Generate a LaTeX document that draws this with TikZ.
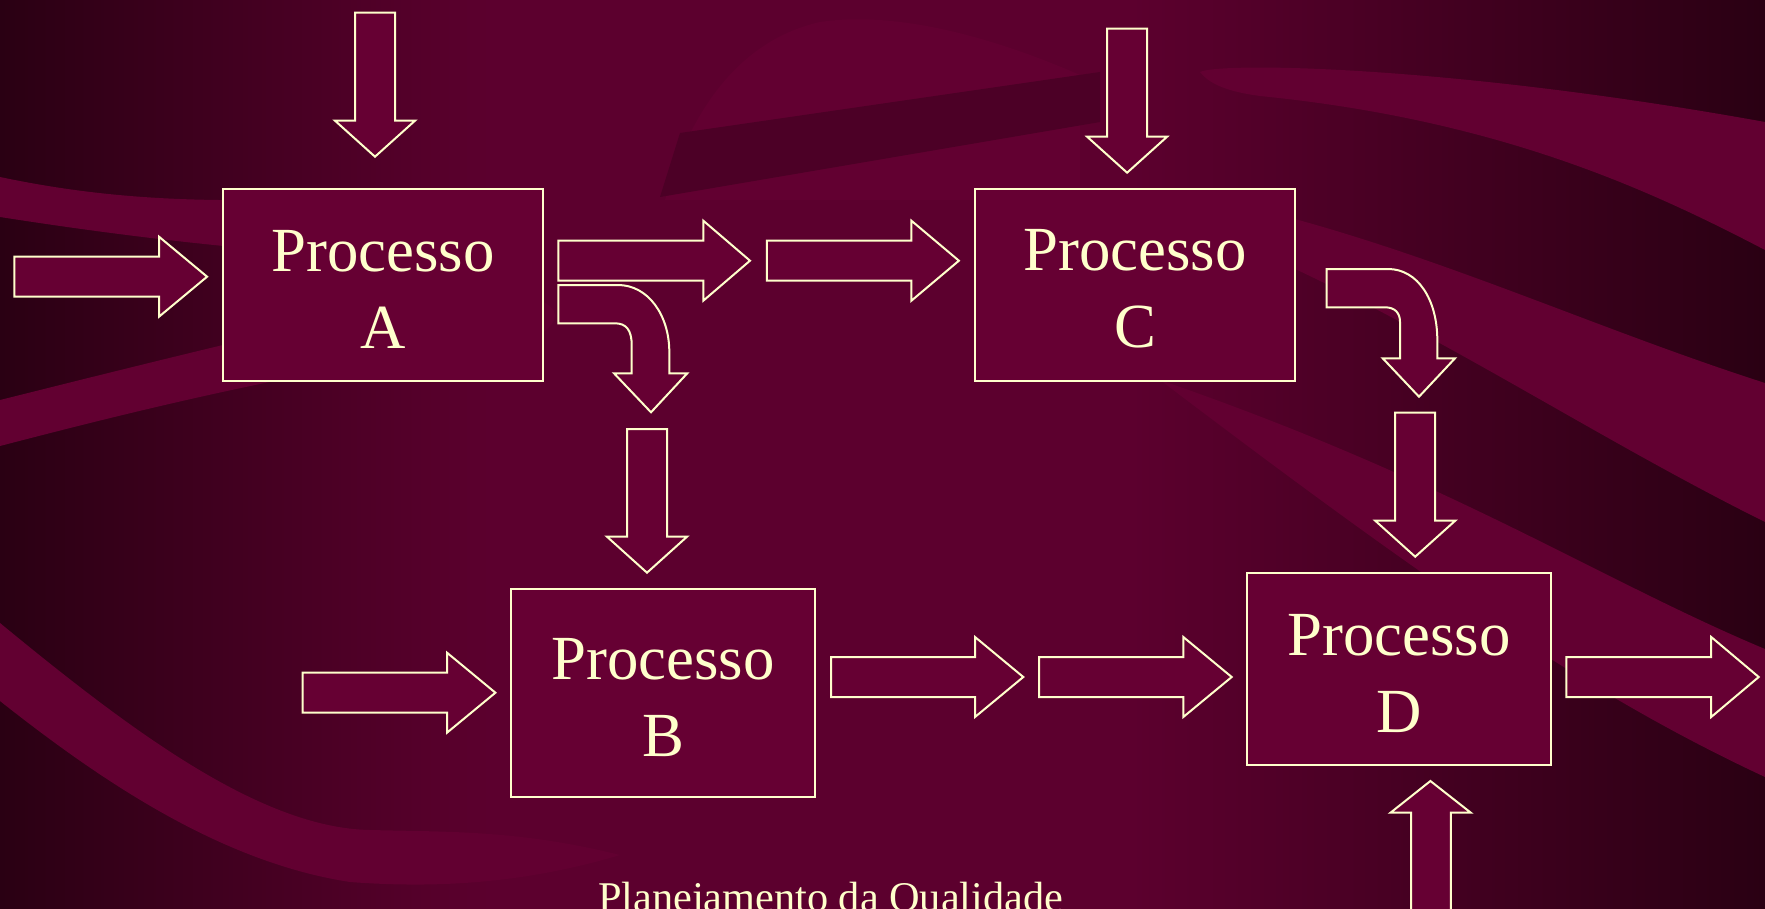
\documentclass[tikz,border=0pt]{standalone}
\usepackage{fontspec}
\setmainfont{Liberation Serif}
\definecolor{bgdark}{HTML}{2A0013}
\definecolor{bgmid}{HTML}{5C002E}
\definecolor{band}{HTML}{620031}
\definecolor{darkband}{HTML}{4C0026}
\definecolor{boxfill}{HTML}{660033}
\definecolor{cream}{HTML}{FFFFCC}
\pgfdeclarehorizontalshading{bgshade}{100bp}{color(0bp)=(bgdark); color(25bp)=(bgdark); color(39bp)=(bgmid); color(57bp)=(bgmid); color(75bp)=(bgdark); color(100bp)=(bgdark)}
\tikzset{
  blockarrow/.style={draw=cream, line width=1pt, fill=boxfill, line join=miter},
  procbox/.style={draw=cream, line width=1pt, fill=boxfill, inner sep=0pt, align=center,
    text=cream, font=\fontsize{31.4pt}{38.5pt}\selectfont},
  titletext/.style={text=cream, inner sep=0pt, font=\fontsize{21.15pt}{25pt}\selectfont}
}
% right block arrow: x left, x head, x tip, y centre
\newcommand{\RArr}[4]{\draw[blockarrow] (#1,#4-20) -- (#2,#4-20) -- (#2,#4-40) -- (#3,#4) -- (#2,#4+40) -- (#2,#4+20) -- (#1,#4+20) -- cycle;}
% down block arrow: x centre, y top, y head, y tip
\newcommand{\DArr}[4]{\draw[blockarrow] (#1-20,#2) -- (#1+20,#2) -- (#1+20,#3) -- (#1+40,#3) -- (#1,#4) -- (#1-40,#3) -- (#1-20,#3) -- cycle;}
\newcommand{\TopStrut}{\rule{0pt}{25pt}}
\begin{document}
\begin{tikzpicture}[x=0.5pt,y=-0.5pt]
\useasboundingbox (0,0) rectangle (1765,909);
\clip (0,0) rectangle (1765,909);
% background
\shade[shading=bgshade] (0,0) rectangle (1765,909);
\fill[band] (0,177) .. controls (90,196) and (170,201) .. (260,200) -- (330,200) -- (330,255) .. controls (200,246) and (90,231) .. (0,217) -- cycle;
\fill[band] (0,400) .. controls (100,375) and (200,350) .. (320,322) -- (540,300) .. controls (560,310) and (560,320) .. (540,335) -- (320,372) .. controls (200,395) and (100,420) .. (0,446) -- cycle;
\fill[band] (0,623) .. controls (130,730) and (260,828) .. (370,830) .. controls (450,832) and (520,830) .. (620,855) .. controls (520,885) and (430,888) .. (350,882) .. controls (220,862) and (100,780) .. (0,701) -- cycle;
\fill[band] (665,200) .. controls (690,110) and (740,40) .. (820,22) .. controls (900,10) and (1000,40) .. (1080,75) -- (1080,200) -- cycle;
\fill[darkband] (680,133) -- (1100,72) -- (1100,122) -- (660,197) -- cycle;
\fill[band] (1200,72) .. controls (1220,62) and (1450,65) .. (1765,122) -- (1765,250) .. controls (1650,190) and (1500,120) .. (1260,96) .. controls (1230,92) and (1210,85) .. (1200,72) -- cycle;
\fill[band] (1280,215) .. controls (1450,260) and (1600,330) .. (1765,383) -- (1765,522) .. controls (1600,440) and (1450,340) .. (1280,262) -- cycle;
\fill[band] (1160,380) .. controls (1450,480) and (1600,580) .. (1765,649) -- (1765,777) .. controls (1600,700) and (1450,600) .. (1160,380) -- cycle;
% process boxes
\node[procbox, minimum width=160.35pt, minimum height=96pt] (A) at (382.85,284.7) {\TopStrut Processo\\A};
\node[procbox, minimum width=160.4pt, minimum height=96pt] (C) at (1135,284.7) {\TopStrut Processo\\C};
\node[procbox, minimum width=152pt, minimum height=104pt] (B) at (663,692.7) {\TopStrut Processo\\B};
\node[procbox, minimum width=151.8pt, minimum height=96pt] (D) at (1398.8,669) {\TopStrut Processo\\D};
% horizontal arrows
\RArr{14.3}{159}{207.1}{276.7}
\RArr{558.3}{703.3}{750}{260.7}
\RArr{766.8}{911.4}{958.9}{260.7}
\RArr{302.5}{447}{495.4}{692.7}
\RArr{831}{975}{1023.3}{677}
\RArr{1039}{1183.3}{1231.7}{677}
\RArr{1566.3}{1711.2}{1758.7}{677}
% vertical arrows
\DArr{375}{12.7}{120.7}{156.7}
\DArr{1127.1}{28.7}{136.7}{172.7}
\DArr{647}{429}{536.7}{572.7}
\DArr{1415.2}{412.7}{520.7}{556.7}
\draw[blockarrow] (1411,925) -- (1411,812.7) -- (1390.5,812.7) -- (1430.4,781) -- (1470.8,812.7) -- (1450.9,812.7) -- (1450.9,925) -- cycle;
% curved arrows
\draw[blockarrow] (558.3,285) -- (618,285) .. controls (648,285) and (669.3,315) .. (669.3,352) -- (669.3,373.3) -- (687.3,373.3) -- (651,412.3) -- (614,373.3) -- (631.7,373.3) -- (631.7,345) .. controls (631.7,330) and (626,323.3) .. (615,323.3) -- (558.3,323.3) -- cycle;
\draw[blockarrow] (1326.7,269) -- (1388,269) .. controls (1418,269) and (1437.3,300) .. (1437.3,340) -- (1437.3,358.3) -- (1455,358.3) -- (1419,396.7) -- (1382.7,358.3) -- (1400,358.3) -- (1400,322) .. controls (1400,313) and (1395,307.3) .. (1385,307.3) -- (1326.7,307.3) -- cycle;
% caption
\node[titletext, anchor=base] (title) at (830.6,911) {Planejamento da Qualidade};
\end{tikzpicture}
\end{document}
